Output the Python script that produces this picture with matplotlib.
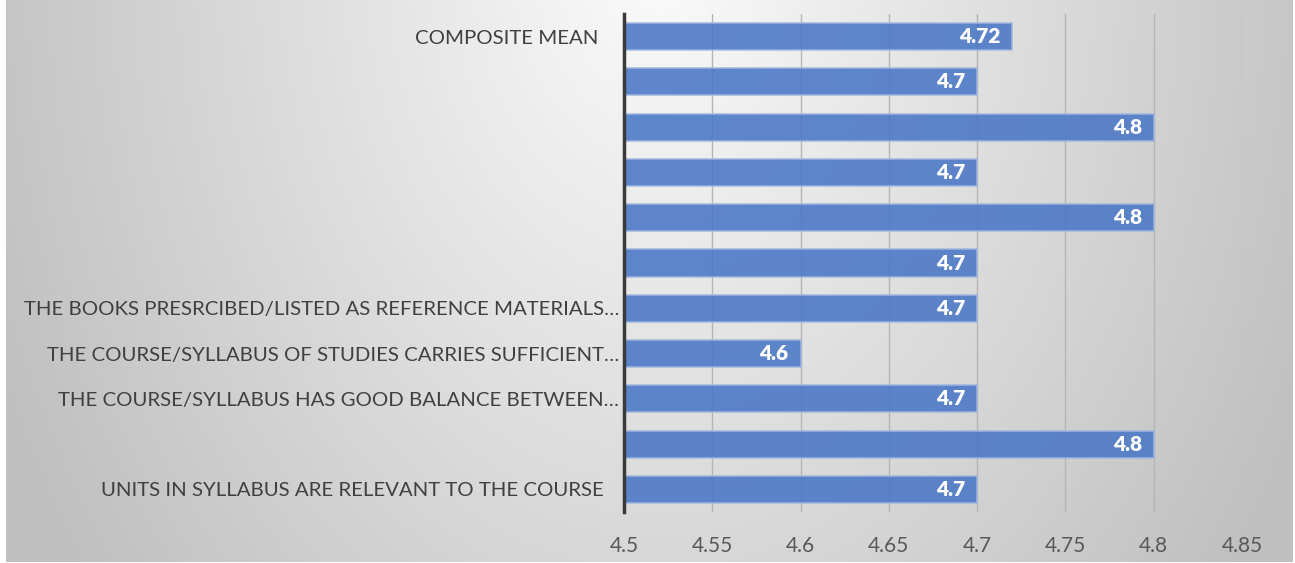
import numpy as np
import matplotlib
matplotlib.use("Agg")
import matplotlib.pyplot as plt

categories = [
    "COMPOSITE MEAN",
    "",
    "",
    "",
    "",
    "",
    "THE BOOKS PRESRCIBED/LISTED AS REFERENCE MATERIALS\u2026",
    "THE COURSE/SYLLABUS OF STUDIES CARRIES SUFFICIENT\u2026",
    "THE COURSE/SYLLABUS HAS GOOD BALANCE BETWEEN\u2026",
    "",
    "UNITS IN SYLLABUS ARE RELEVANT TO THE COURSE",
]
values = [4.72, 4.7, 4.8, 4.7, 4.8, 4.7, 4.7, 4.6, 4.7, 4.8, 4.7]
value_labels = ["4.72", "4.7", "4.8", "4.7", "4.8", "4.7", "4.7", "4.6", "4.7", "4.8", "4.7"]
xticks = [4.5, 4.55, 4.6, 4.65, 4.7, 4.75, 4.8, 4.85]
xtick_labels = ["4.5", "4.55", "4.6", "4.65", "4.7", "4.75", "4.8", "4.85"]

FONT = ["Lato", "DejaVu Sans"]
plt.rcParams["font.family"] = FONT

W, H = 1295, 563
fig = plt.figure(figsize=(W / 100, H / 100), dpi=100)
fig.patch.set_facecolor("white")

# background gradient
bg = fig.add_axes([6 / W, 1 / H, 1287 / W, 562 / H], zorder=0)
yy, xx = np.mgrid[0:562, 0:1287]
r = np.sqrt(((xx - 650) / 650.0) ** 2 + ((yy + 40) / 900.0) ** 2)
v = np.clip(0.985 - 0.21 * r, 0.75, 1.0)
img = np.dstack([v, v, v])
bg.imshow(img, aspect="auto", extent=[0, 1, 0, 1], origin="upper")
bg.set_axis_off()

ax = fig.add_axes([624 / W, 1 - 512 / H, (1242 - 624) / W, (512 - 14) / H], zorder=1)
ax.patch.set_alpha(0)

n = len(values)
ypos = np.arange(n)[::-1]
ax.barh(ypos, [v_ - 4.5 for v_ in values], left=4.5, height=0.6,
        color="#4a77c6", alpha=0.88, edgecolor="#9fb7e0", linewidth=1.2, zorder=3)

for y, val, lab in zip(ypos, values, value_labels):
    ax.annotate(lab, xy=(val, y), xytext=(-12, 0), textcoords="offset pixels",
                ha="right", va="center", color="white", fontsize=15,
                fontweight="heavy", zorder=5)

ax.set_xlim(4.5, 4.85)
ax.set_ylim(-0.5, n - 0.5)
ax.set_xticks(xticks)
ax.set_xticklabels(xtick_labels, fontsize=15, color="#595959")
ax.set_yticks(ypos)
labels = list(categories)
labels[0] = labels[0] + "    "
labels[-1] = labels[-1] + "   "
ax.set_yticklabels(labels, fontsize=14.7, color="#404040")
ax.tick_params(axis="both", length=0)
ax.tick_params(axis="y", pad=3.5)
ax.tick_params(axis="x", pad=17)
ax.grid(axis="x", color="#b5b5b5", linewidth=1.0, zorder=1)
ax.set_axisbelow(True)
for s in ["top", "right", "bottom"]:
    ax.spines[s].set_visible(False)
ax.spines["left"].set_color("#3a3a3a")
ax.spines["left"].set_linewidth(2.5)
ax.spines["left"].set_zorder(6)

fig.savefig("out.png", dpi=100)
